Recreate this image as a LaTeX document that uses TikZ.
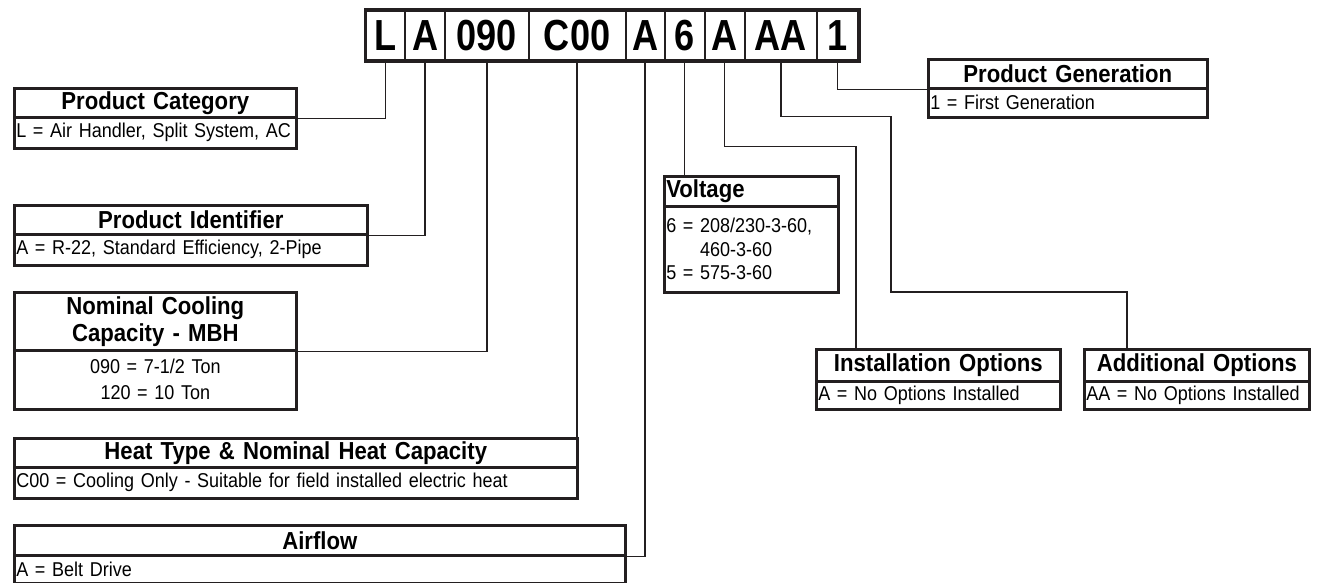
\documentclass[tikz,border=0pt]{standalone}
\usepackage{fontspec}
\setmainfont[FakeStretch=0.9]{Liberation Sans}
\newfontfamily\codefont[FakeStretch=0.83]{Liberation Sans}
\definecolor{bord}{HTML}{231F20}
\newcommand{\ttlfont}{\bfseries\fontsize{24.6}{27}\selectfont}
\newcommand{\bdyfont}{\fontsize{20}{23.5}\selectfont}
\newcommand{\bdycfont}{\fontsize{20}{26}\selectfont}
\begin{document}
\begin{tikzpicture}[x=1pt,y=-1pt,
  cell/.style={draw=bord, line width=2.2pt, fill=white, inner sep=0pt, minimum height=50pt, anchor=north west, font=\codefont\bfseries\fontsize{43.5}{43}\selectfont},
  part/.style={draw=bord, line width=2.6pt, fill=white, inner xsep=2pt, inner ysep=0pt, anchor=north west},
  ttl/.style={part, align=center, font=\ttlfont},
  ttll/.style={part, align=left, font=\ttlfont},
  bdy/.style={part, align=left, font=\bdyfont},
  bdyc/.style={part, align=center, font=\bdycfont},
  conn/.style={draw=bord, line width=1.3pt}
]
\useasboundingbox (0,0) rectangle (1330,583);

% code cells
\node[cell, minimum width=39pt]   (c1) at (365,9.5)   {L};
\node[cell, minimum width=40pt]   (c2) at (404,9.5)   {A};
\node[cell, minimum width=83.5pt] (c3) at (444,9.5)   {090};
\node[cell, minimum width=97pt]   (c4) at (527.5,9.5) {C00};
\node[cell, minimum width=39pt]   (c5) at (624.5,9.5) {A};
\node[cell, minimum width=40pt]   (c6) at (663.5,9.5) {6};
\node[cell, minimum width=40pt]   (c7) at (703.5,9.5) {A};
\node[cell, minimum width=72.5pt] (c8) at (743.5,9.5) {AA};
\node[cell, minimum width=41pt]   (c9) at (816,9.5)   {1};
\draw[draw=bord, line width=2.8pt] (c1.north west) rectangle (c9.south east);

% Product Category
\node[ttl, minimum width=282pt, text width=278pt, minimum height=29pt] (pcT) at (13,87) {Product Category};
\node[bdy, minimum width=282pt, text width=278pt, minimum height=31pt] (pcB) at (13,116) {\mbox{L = Air Handler, Split System, AC}};
% Product Identifier
\node[ttl, minimum width=353pt, text width=349pt, minimum height=29pt] (piT) at (13,204) {Product Identifier};
\node[bdy, minimum width=353pt, text width=349pt, minimum height=31pt] (piB) at (13,233) {\mbox{A = R-22, Standard Efficiency, 2-Pipe}};
% Nominal Cooling
\node[ttl, minimum width=282pt, text width=278pt, minimum height=58pt] (ncT) at (13,291) {Nominal Cooling\\Capacity - MBH};
\node[bdyc, minimum width=282pt, text width=278pt, minimum height=59pt] (ncB) at (13,349) {090 = 7-1/2 Ton\\120 = 10 Ton};
% Heat type
\node[ttl, minimum width=563pt, text width=559pt, minimum height=29pt] (htT) at (13,437) {Heat Type \& Nominal Heat Capacity};
\node[bdy, minimum width=563pt, text width=559pt, minimum height=31pt] (htB) at (13,466) {\mbox{C00 = Cooling Only - Suitable for field installed electric heat}};
% Airflow
\node[ttl, minimum width=611pt, text width=607pt, minimum height=30pt] (afT) at (13,524) {Airflow};
\node[bdy, minimum width=611pt, text width=607pt, minimum height=28pt] (afB) at (13,554) {\mbox{A = Belt Drive}};
% Voltage
\node[ttll, minimum width=174pt, text width=170pt, minimum height=30pt] (vT) at (663,175) {Voltage};
\node[bdy, minimum width=174pt, text width=170pt, minimum height=86pt] (vB) at (663,205) {\mbox{6 = 208/230-3-60,}\\\phantom{6 = }460-3-60\\5 = 575-3-60};
% Product Generation
\node[ttl, minimum width=279pt, text width=275pt, minimum height=29pt] (pgT) at (927,58) {Product Generation};
\node[bdy, minimum width=279pt, text width=275pt, minimum height=29pt] (pgB) at (927,87) {\mbox{1 = First Generation}};
% Installation Options
\node[ttl, minimum width=244pt, text width=240pt, minimum height=32pt] (inT) at (815,348) {\mbox{Installation Options}};
\node[bdy, minimum width=244pt, text width=240pt, minimum height=28pt] (inB) at (815,380) {\mbox{A = No Options Installed}};
% Additional Options
\node[ttl, minimum width=225pt, text width=221pt, minimum height=32pt] (aoT) at (1083,348) {\mbox{Additional Options}};
\node[bdy, minimum width=225pt, text width=221pt, minimum height=28pt] (aoB) at (1083,380) {\mbox{AA = No Options Installed}};

% connectors
\coordinate (k7) at (856,146.5);
\coordinate (k8a) at (891,116.5);
\coordinate (k8b) at (1127,292);
\draw[conn] (c1.south) |- (pcT.south east);
\draw[conn] (c2.south) |- (piT.south east);
\draw[conn] (c3.south) |- (ncT.south east);
\draw[conn] (c4.south) -- (c4.south |- htT.north);
\draw[conn] (c5.south) |- (afT.south east);
\draw[conn] (c6.south) -- (c6.south |- vT.north);
\draw[conn] (c7.south) |- (k7) -- (k7 |- inT.north);
\draw[conn] (c8.south) |- (k8a) |- (k8b) -- (k8b |- aoT.north);
\draw[conn] (c9.south) |- (pgT.south west);
\end{tikzpicture}
\end{document}
